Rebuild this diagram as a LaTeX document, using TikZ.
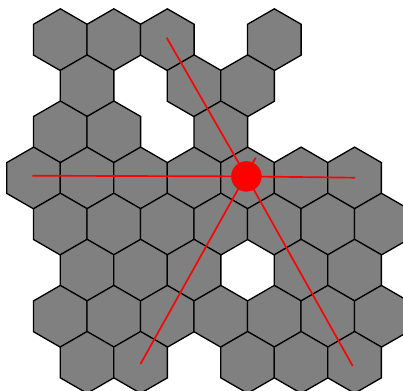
\documentclass[tikz,border=0pt]{standalone}
\usepackage{tikz}

\begin{document}
\begin{tikzpicture}[x=0.02cm,y=-0.02cm]
  \tikzset{hexcell/.style={fill=gray,draw=black,line width=0.75pt},
    ray/.style={red,line width=0.95pt}}
  \clip (0,0) rectangle (403,390);
  % cells as half-column/row
  \foreach \j/\r in {1/0,3/0,5/0,9/0, 2/1,6/1,8/1, 1/2,3/2,7/2,
      0/3,2/3,4/3,6/3,8/3,10/3,12/3, 1/4,3/4,5/4,7/4,9/4,11/4,13/4,
      2/5,4/5,6/5,10/5,12/5, 1/6,3/6,5/6,7/6,9/6,11/6,13/6,
      2/7,4/7,8/7,10/7,12/7}
    \draw[hexcell] ({33.6+26.75*\j},{39.7+46.1*\r}) +(30:30.9) -- +(90:30.9)
      -- +(150:30.9) -- +(210:30.9) -- +(270:30.9) -- +(330:30.9) -- cycle;
  \coordinate (hub) at (246.4,176.4);
  \coordinate (top) at (166.7,37.7);
  \coordinate (left) at (32.3,175.7);
  \coordinate (right) at (355,177.7);
  \coordinate (botleft) at (140.5,364);
  \coordinate (botright) at (352.7,366);
  \coordinate (tick) at (255.7,157.7);
  \draw[ray] (hub) -- (top);
  \draw[ray] (left) -- (hub) -- (right);
  \draw[ray] (botleft) -- (tick);
  \draw[ray] (hub) -- (botright);
  \node[circle,fill=red,inner sep=0pt,minimum size=0.61cm] (src) at (hub) {};
\end{tikzpicture}
\end{document}
